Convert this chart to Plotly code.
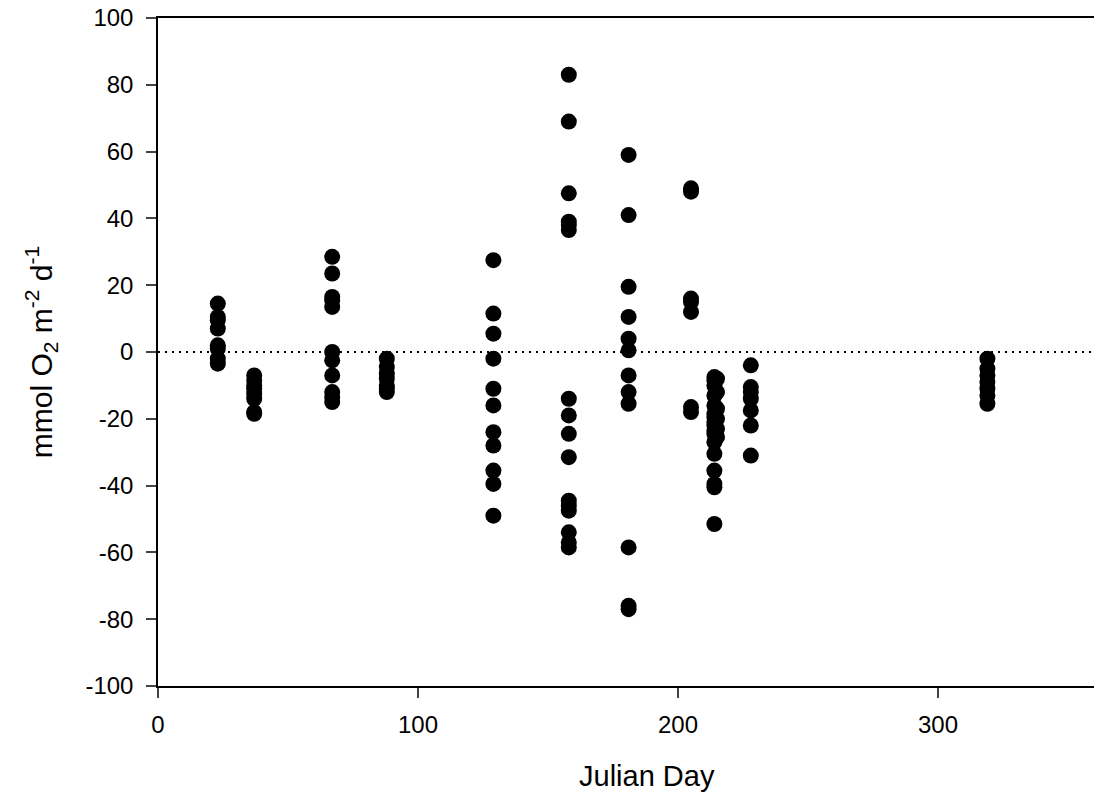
import plotly.graph_objects as go

# Julian day groups and measured fluxes (mmol O2 m-2 d-1)
day_023 = [14.5, 10.5, 9.5, 7, 2, 1, -2, -3.5]
day_037 = [-7, -8.5, -10, -11, -12.5, -14, -18, -18.5]
day_067 = [28.5, 23.5, 16.5, 15.5, 13.5, 0, -2.5, -7, -12, -13.5, -15]
day_088 = [-2, -4.5, -6.5, -8, -10, -11, -12]
day_129 = [27.5, 11.5, 5.5, -2, -11, -16, -24, -28, -35.5, -39.5, -49]
day_158 = [83, 69, 47.5, 39, 38, 36.5, -14, -19, -24.5, -31.5, -44.5, -46, -47.5, -54, -57, -58.5]
day_181 = [59, 41, 19.5, 10.5, 4, 0.5, -7, -12, -15.5, -58.5, -76, -77]
day_205 = [49, 48, 16, 15, 12, -16.5, -18]
day_214 = [-7.5, -8.5, -10, -13, -16, -18.5, -19.5, -21, -22, -23.5, -24.5, -27, -30.5, -35.5, -39.5, -40.5, -51.5]
day_215 = [-8, -12, -17, -20, -23, -25.5]
day_228 = [-4, -10.5, -12, -14, -17.5, -22, -31]
day_319 = [-2, -5, -7, -9, -11, -13, -15.5]

groups = [(23, day_023), (37, day_037), (67, day_067), (88, day_088), (129, day_129),
          (158, day_158), (181, day_181), (205, day_205), (214, day_214), (215, day_215),
          (228, day_228), (319, day_319)]

xs, ys = [], []
for d, vals in groups:
    xs += [d] * len(vals)
    ys += vals

x_ticks = [0, 100, 200, 300]
x_labels = ["0", "100", "200", "300"]
y_ticks = [-100, -80, -60, -40, -20, 0, 20, 40, 60, 80, 100]
y_labels = ["-100", "-80", "-60", "-40", "-20", "0", "20", "40", "60", "80", "100"]

fig = go.Figure()
fig.add_trace(go.Scatter(x=[0, 360], y=[0, 0], mode="lines",
                         line=dict(color="black", width=1.8, dash="2px,5px"),
                         hoverinfo="skip", showlegend=False))
fig.add_trace(go.Scatter(x=xs, y=ys, mode="markers",
                         marker=dict(color="black", size=16, line=dict(width=0)),
                         showlegend=False))

font = "Liberation Sans, Arial, sans-serif"
fig.update_layout(
    width=1098, height=799,
    margin=dict(l=158, r=4, t=18, b=113),
    plot_bgcolor="white", paper_bgcolor="white",
    font=dict(family=font, color="black", size=24),
    xaxis=dict(range=[0, 360], tickvals=x_ticks, ticktext=x_labels,
               ticks="outside", ticklen=10, tickwidth=1.5, ticklabelstandoff=6,
               showline=True, linecolor="black", linewidth=1.5,
               mirror=True, showgrid=False, zeroline=False,
               tickfont=dict(size=24)),
    yaxis=dict(range=[-100, 100], tickvals=y_ticks, ticktext=y_labels,
               ticks="outside", ticklen=10, tickwidth=1.5, ticklabelstandoff=8,
               showline=True, linecolor="black", linewidth=1.5,
               showgrid=False, zeroline=False,
               title=dict(text="mmol O<sub>2</sub> m<sup>-2</sup> d<sup>-1</sup>",
                          font=dict(size=30), standoff=24),
               tickfont=dict(size=24)),
    annotations=[dict(text="Julian Day", xref="paper", yref="paper",
                      x=0.522, y=-0.135, xanchor="center", yanchor="middle",
                      showarrow=False, font=dict(size=29))],
)

fig.write_html("out.html")
